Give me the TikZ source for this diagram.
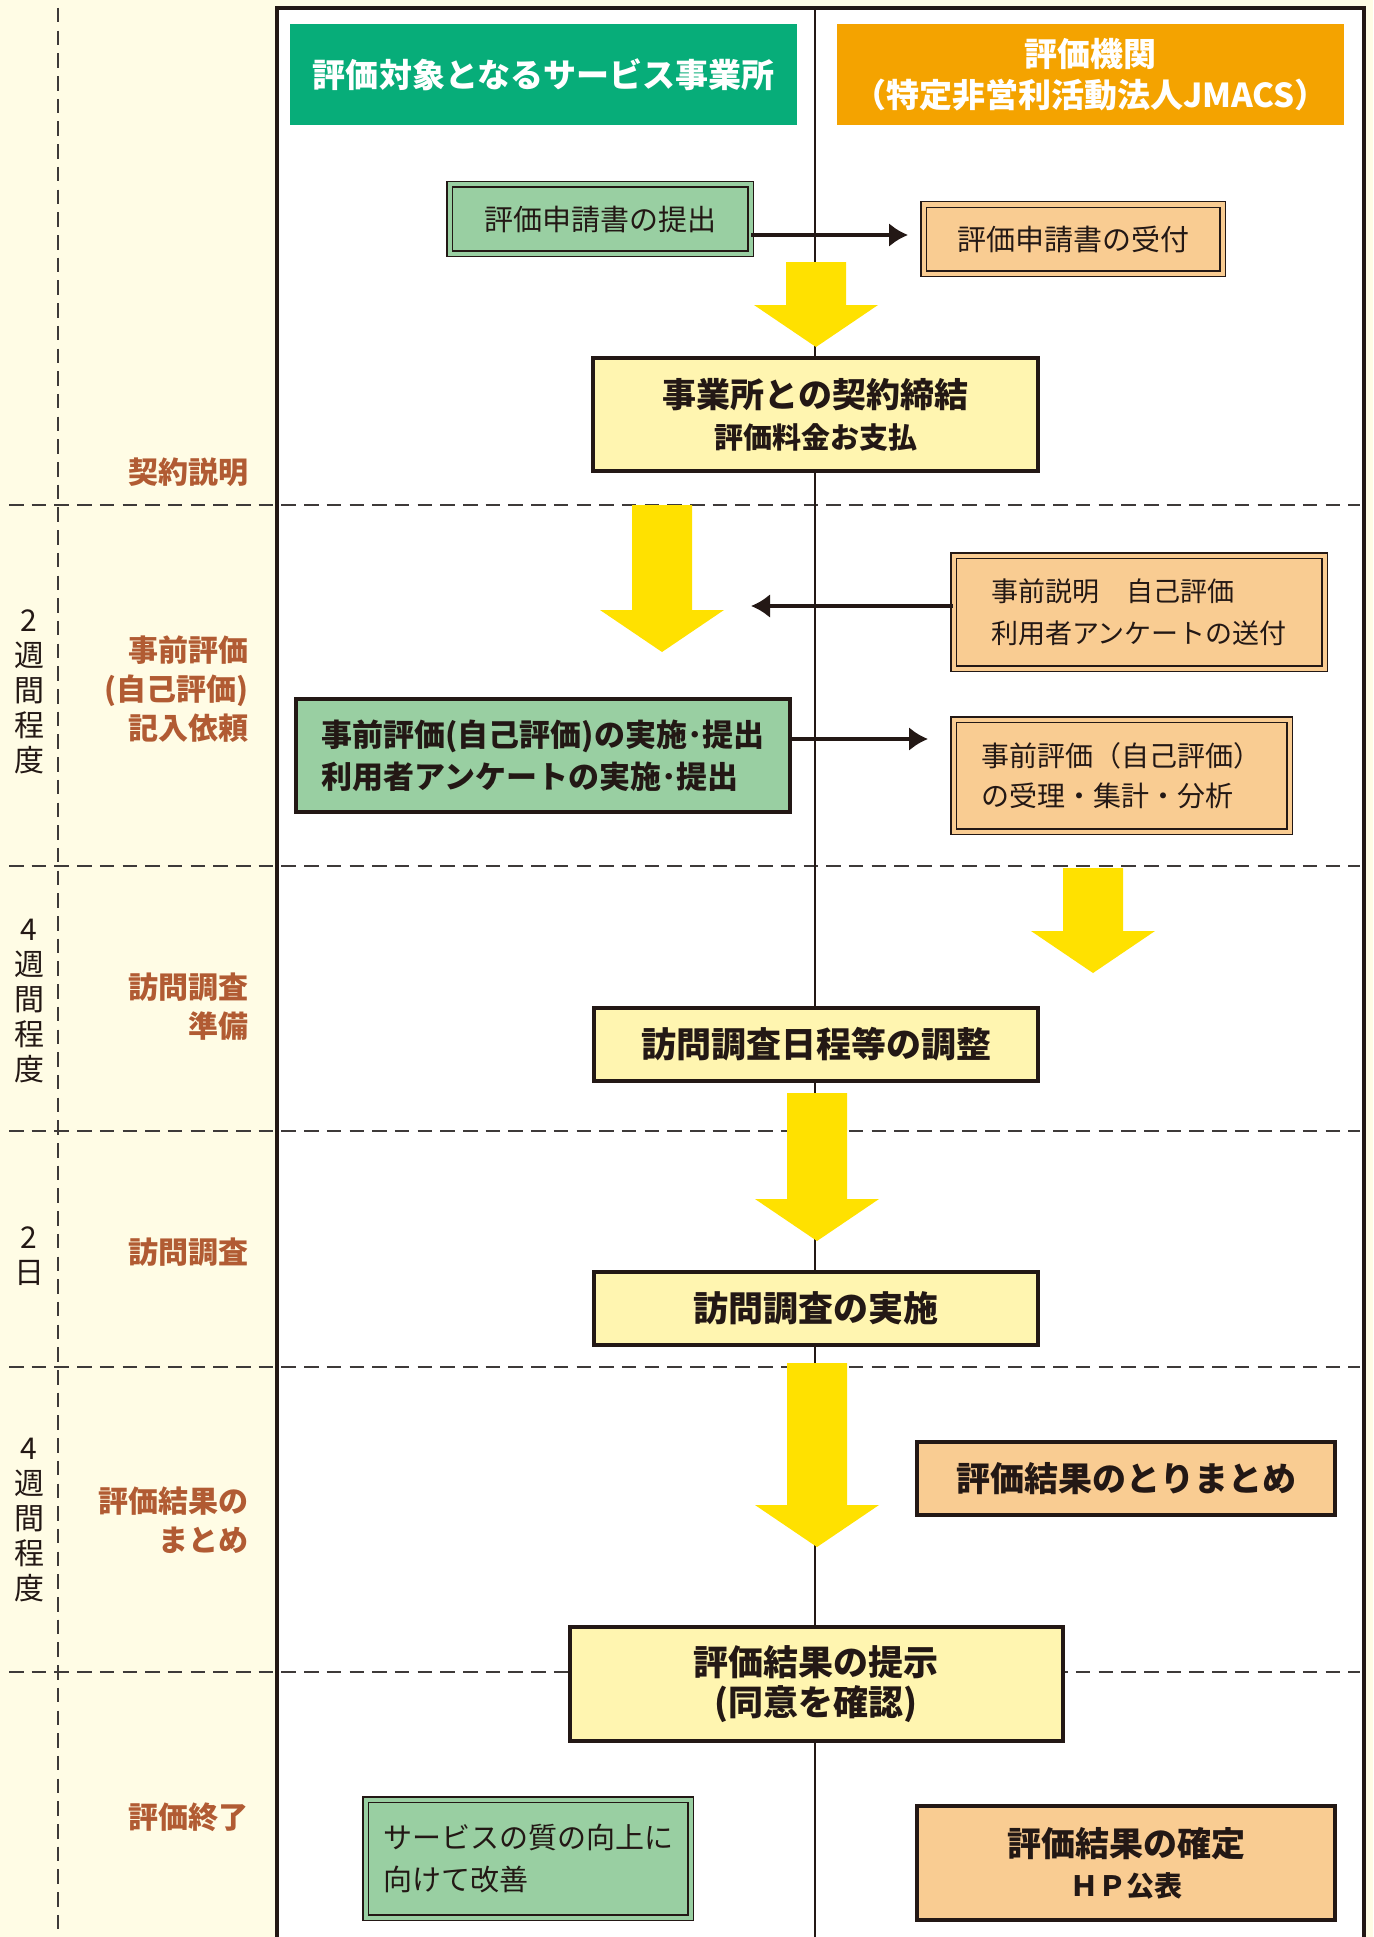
\documentclass[tikz,border=0pt]{standalone}
\usepackage{fontspec}
\setmainfont{Noto Sans CJK JP}
\usepackage{xcolor}
\usepackage{tikz}
\usetikzlibrary{positioning,arrows.meta}

\definecolor{cream}{HTML}{FFFCE5}
\definecolor{hdrgreen}{HTML}{07AD79}
\definecolor{hdrorange}{HTML}{F4A300}
\definecolor{boxgreen}{HTML}{99CFA2}
\definecolor{boxorange}{HTML}{F9CC92}
\definecolor{boxyellow}{HTML}{FFF5B0}
\definecolor{labelbrown}{HTML}{B15B33}
\definecolor{arrowyellow}{HTML}{FFE100}
\definecolor{linedark}{HTML}{231815}
\definecolor{dashgrey}{HTML}{3E3A39}

\begin{document}
\begin{tikzpicture}[x=1pt, y=-1pt,
    flowbox/.style={rectangle, draw=linedark, line width=4pt, inner sep=0pt, align=center, text=linedark},
    docbox/.style={rectangle, draw=linedark, line width=1.5pt, double distance=4pt, inner sep=0pt, align=left, text=linedark},
    header/.style={rectangle, inner sep=0pt, text=white, align=center, minimum width=507pt, minimum height=101pt, font=\fontsize{33}{41}\selectfont\bfseries},
    steplabel/.style={anchor=east, align=right, text=labelbrown, font=\fontsize{30}{39}\selectfont\bfseries},
    period/.style={align=center, text=linedark, font=\fontsize{30}{35}\selectfont},
    flowarrow/.style={draw=linedark, line width=3.5pt, -{Latex[length=19pt, width=24pt]}},
    bigarrow/.style={fill=arrowyellow},
    dashline/.style={draw=dashgrey, line width=2pt, dash pattern=on 14.5pt off 8.2pt}]
    \useasboundingbox (0,0) rectangle (1373,1937);
    \clip (0,0) rectangle (1373,1937);
    \fill[cream] (0,0) rectangle (1373,1937);
    \draw[linedark, line width=4pt, fill=white] (277,8) rectangle (1364,1960);
    \draw[dashline] (58,8) -- (58,1937);
    \foreach \yl in {505,866,1131,1367,1672}
        \draw[dashline] (9,\yl) -- (1360,\yl);
    \draw[linedark, line width=2.5pt] (815,8) -- (815,1937);

    \foreach \xc/\ya/\yb in {816/262/347, 662/505/652, 1093/868/973, 817/1093/1241, 817/1363/1547}
        \fill[bigarrow] (\xc-30,\ya) -- (\xc+30,\ya) -- (\xc+30,\yb-42) -- (\xc+62,\yb-42) -- (\xc,\yb) -- (\xc-62,\yb-42) -- (\xc-30,\yb-42) -- cycle;

    \node[header, fill=hdrgreen] (office) at (543.5,74.5) {評価対象となるサービス事業所};
    \node[header, fill=hdrorange] (agency) at (1090.5,74.5) {評価機関\\（特定非営利活動法人JMACS）};

    \node[docbox, fill=boxgreen, double=boxgreen, minimum width=301pt, minimum height=69pt, font=\fontsize{29}{40}\selectfont] (application) at (600,219) {評価申請書の提出};
    \node[docbox, fill=boxorange, double=boxorange, minimum width=299pt, minimum height=69pt, font=\fontsize{29}{40}\selectfont] (receipt) at (1073,239) {評価申請書の受付};
    \node[flowbox, fill=boxyellow, minimum width=445pt, minimum height=113pt, font=\fontsize{34}{41}\selectfont\bfseries] (contract) at (815.5,414.5) {事業所との契約締結\\{\fontsize{29}{41}\selectfont 評価料金お支払}};
    \node[docbox, fill=boxorange, double=boxorange, minimum width=371pt, minimum height=113pt, font=\fontsize{27}{42}\selectfont] (sendout) at (1139,612) {事前説明　自己評価\\利用者アンケートの送付};
    \node[flowbox, fill=boxgreen, align=left, minimum width=494pt, minimum height=113pt, font=\fontsize{31}{42}\selectfont\bfseries] (selfeval) at (543,755.5) {事前評価(自己評価)の実施･提出\\利用者アンケートの実施･提出};
    \node[docbox, fill=boxorange, double=boxorange, minimum width=336pt, minimum height=112pt, font=\fontsize{28}{40}\selectfont] (analysis) at (1121.5,775.5) {事前評価（自己評価）\\の受理・集計・分析};
    \node[flowbox, fill=boxyellow, minimum width=444pt, minimum height=73pt, font=\fontsize{35}{41}\selectfont\bfseries] (schedule) at (816,1044.5) {訪問調査日程等の調整};
    \node[flowbox, fill=boxyellow, minimum width=444pt, minimum height=73pt, font=\fontsize{35}{41}\selectfont\bfseries, below=187pt of schedule] (visit) {訪問調査の実施};
    \node[flowbox, fill=boxorange, minimum width=418pt, minimum height=73pt, font=\fontsize{34}{41}\selectfont\bfseries] (summary) at (1126,1478.5) {評価結果のとりまとめ};
    \node[flowbox, fill=boxyellow, minimum width=493pt, minimum height=114pt, font=\fontsize{35}{40}\selectfont\bfseries, below=278pt of visit] (present) {評価結果の提示\\(同意を確認)};
    \node[docbox, fill=boxgreen, double=boxgreen, minimum width=325pt, minimum height=118pt, font=\fontsize{29}{42}\selectfont] (improve) at (528,1858.5) {サービスの質の向上に\\向けて改善};
    \node[flowbox, fill=boxorange, minimum width=418pt, minimum height=114pt, font=\fontsize{34}{40}\selectfont\bfseries, below=287pt of summary] (final) {評価結果の確定\\{\fontsize{28}{40}\selectfont ＨＰ公表}};

    \coordinate (receipttip) at (908,235);
    \coordinate (sendtip) at (751,606);
    \coordinate (analysistip) at (928,739);
    \draw[flowarrow] (application.east |- receipttip) -- (receipttip);
    \draw[flowarrow] (sendout.west |- sendtip) -- (sendtip);
    \draw[flowarrow] (selfeval.east |- analysistip) -- (analysistip);

    \node[steplabel] (lbcontract) at (252,472) {契約説明};
    \node[steplabel] (lbprecheck) at (252,689) {事前評価\\(自己評価)\\記入依頼};
    \node[steplabel] (lbprepare) at (252,1007) {訪問調査\\準備};
    \node[steplabel] (lbvisit) at (252,1252) {訪問調査};
    \node[steplabel] (lbsummary) at (252,1520) {評価結果の\\まとめ};
    \node[steplabel] (lbend) at (252,1817) {評価終了};

    \node[period] (weeksA) at (29,692) {2\\週\\間\\程\\度};
    \node[period] (weeksB) at (29,1001) {4\\週\\間\\程\\度};
    \node[period] (days) at (29,1256) {2\\日};
    \node[period] (weeksC) at (29,1520) {4\\週\\間\\程\\度};
\end{tikzpicture}
\end{document}
